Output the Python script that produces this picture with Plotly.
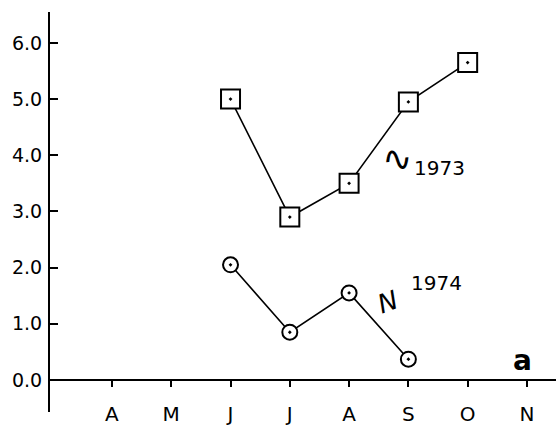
import plotly.graph_objects as go

month_vals = [4, 5, 6, 7, 8, 9, 10, 11]
month_labels = ["A", "M", "J", "J", "A", "S", "O", "N"]

x_1973 = [6, 7, 8, 9, 10]
y_1973 = [5.0, 2.9, 3.5, 4.95, 5.65]

x_1974 = [6, 7, 8, 9]
y_1974 = [2.05, 0.85, 1.55, 0.37]

y_ticks = [0, 1, 2, 3, 4, 5, 6]

FONT = "DejaVu Sans"

fig = go.Figure()
fig.add_trace(go.Scatter(
    x=x_1973, y=y_1973, mode="lines+markers",
    line=dict(color="black", width=1.6),
    marker=dict(symbol="square-dot", size=19, color="white",
                line=dict(color="black", width=2)),
    showlegend=False))
fig.add_trace(go.Scatter(
    x=x_1974, y=y_1974, mode="lines+markers",
    line=dict(color="black", width=1.6),
    marker=dict(symbol="circle-dot", size=15, color="white",
                line=dict(color="black", width=2)),
    showlegend=False))

ymin, ymax = -0.57, 6.55
fig.update_layout(
    width=556, height=427,
    margin=dict(l=50, r=0, t=12, b=15),
    paper_bgcolor="white", plot_bgcolor="white",
    font=dict(family=FONT, size=19, color="black"),
    xaxis=dict(range=[2.955, 11.49], tickvals=month_vals, ticktext=month_labels,
               showgrid=False, zeroline=False, showline=True, linecolor="black",
               linewidth=2, ticks="outside", ticklen=6, tickwidth=2, tickcolor="black",
               anchor="free", position=(0 - ymin) / (ymax - ymin),
               tickfont=dict(size=20), ticklabelstandoff=10),
    yaxis=dict(range=[ymin, ymax], tickvals=y_ticks, tickformat=".1f",
               showgrid=False, zeroline=False, showline=True, linecolor="black",
               linewidth=2, ticks="inside", ticklen=8, tickwidth=2, tickcolor="black",
               tickfont=dict(size=19), ticklabelstandoff=2),
    annotations=[
        dict(x=8.8, y=3.95, text="∿", showarrow=False, font=dict(size=36), textangle=-5),
        dict(x=9.53, y=3.77, text="1973", showarrow=False, font=dict(size=20)),
        dict(x=8.65, y=1.39, text="<i>N</i>", showarrow=False, font=dict(size=26), textangle=-20),
        dict(x=9.48, y=1.73, text="1974", showarrow=False, font=dict(size=20)),
        dict(x=10.93, y=0.34, text="<b>a</b>", showarrow=False, font=dict(size=28)),
    ],
)
fig.write_html("out.html")
